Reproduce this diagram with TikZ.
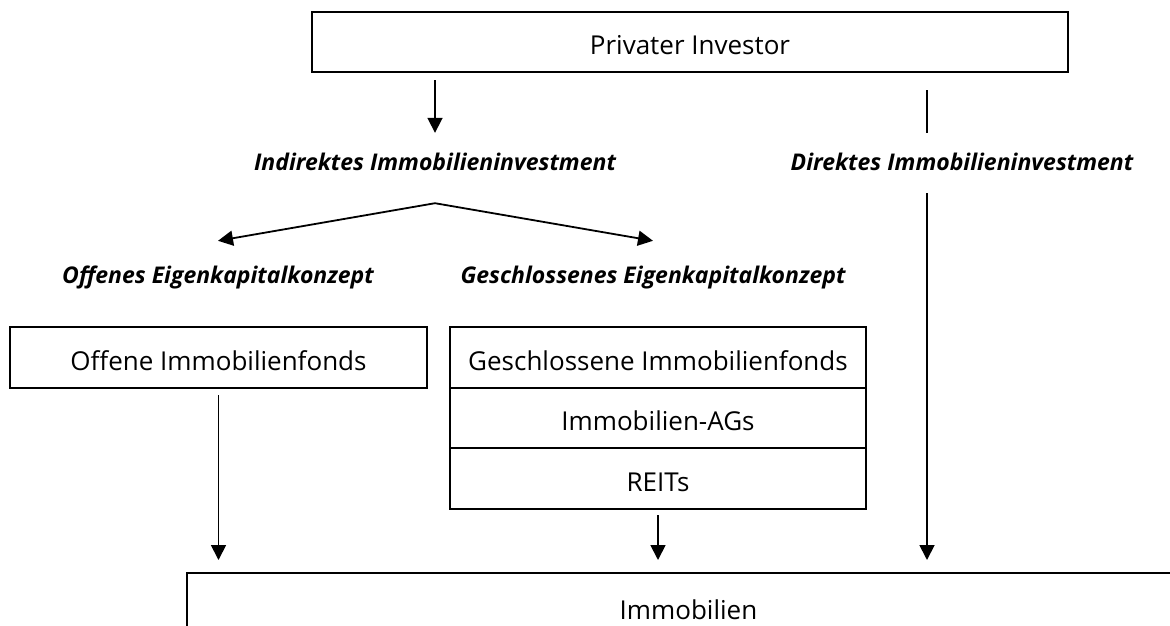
\documentclass[tikz,border=0pt]{standalone}
\usepackage{fontspec}
\setmainfont{Open Sans}
\usetikzlibrary{arrows.meta,positioning}

\begin{document}
\begin{tikzpicture}
            [
                x = 1pt, y = -1pt,
                >          = {Triangle[length=15pt,width=15pt]},
                conn/.style = {line width=1.8pt},
                arr/.style  = {conn, ->},
                box/.style  = {shape=rectangle, draw, line width=1.8pt,
                inner sep=0pt, outer sep=0pt, text height=25pt, text depth=0pt,
                font=\fontsize{26}{30}\selectfont},
                lbl/.style  = {inner sep=0pt, text height=15pt, text depth=5pt,
                font=\fontsize{23}{27}\selectfont\bfseries\itshape}
            ]
            \useasboundingbox (0,0) rectangle (1170,625);
            \clip (0,0) rectangle (1170,625);
            \node[box, minimum width=756pt, minimum height=60pt] (inv) at (690,42) {Privater Investor};
            \node[lbl] (indir)  at (435,165) {Indirektes Immobilieninvestment};
            \node[lbl] (direkt) at (962,165) {Direktes Immobilieninvestment};
            \node[lbl] (offen)  at (218,278) {Offenes Eigenkapitalkonzept};
            \node[lbl] (geschl) at (653,278) {Geschlossenes Eigenkapitalkonzept};
            \node[box, minimum width=417pt, minimum height=61pt] (ofd) at (218.5,357.5) {Offene Immobilienfonds};
            \node[box, minimum width=416pt, minimum height=61pt] (gif) at (658,357.5) {Geschlossene Immobilienfonds};
            \node[box, minimum width=416pt, minimum height=60pt, below=0pt of gif] (ags) {Immobilien-AGs};
            \node[box, minimum width=416pt, minimum height=61pt, below=0pt of ags] (reit) {REITs};
            \node[box, minimum width=1003pt, minimum height=77pt,
                text height=20pt, text depth=4pt] (imm) at (688.5,611.5) {Immobilien};
            \coordinate (apex)   at ([yshift=-28pt]indir.south);
            \coordinate (offtip) at ([yshift=27pt]offen.north);
            \coordinate (getip)  at ([yshift=27pt]geschl.north);
            \coordinate (dx)     at (927,0);
            \draw[arr, shorten <=8pt, shorten >=22pt] (inv.south -| indir) -- (indir.north);
            \draw[conn, <->] (offtip) -- (apex) -- (getip);
            \draw[conn, shorten <=18pt, shorten >=22pt] (inv.south -| dx) -- (direkt.north -| dx);
            \draw[arr, shorten <=18pt, shorten >=13pt] (direkt.south -| dx) -- (imm.north -| dx);
            \draw[arr, shorten <=7pt, shorten >=13pt] (ofd.south) -- (ofd.south |- imm.north);
            \draw[arr, shorten <=6pt, shorten >=13pt] (reit.south) -- (reit.south |- imm.north);
        \end{tikzpicture}
\end{document}
